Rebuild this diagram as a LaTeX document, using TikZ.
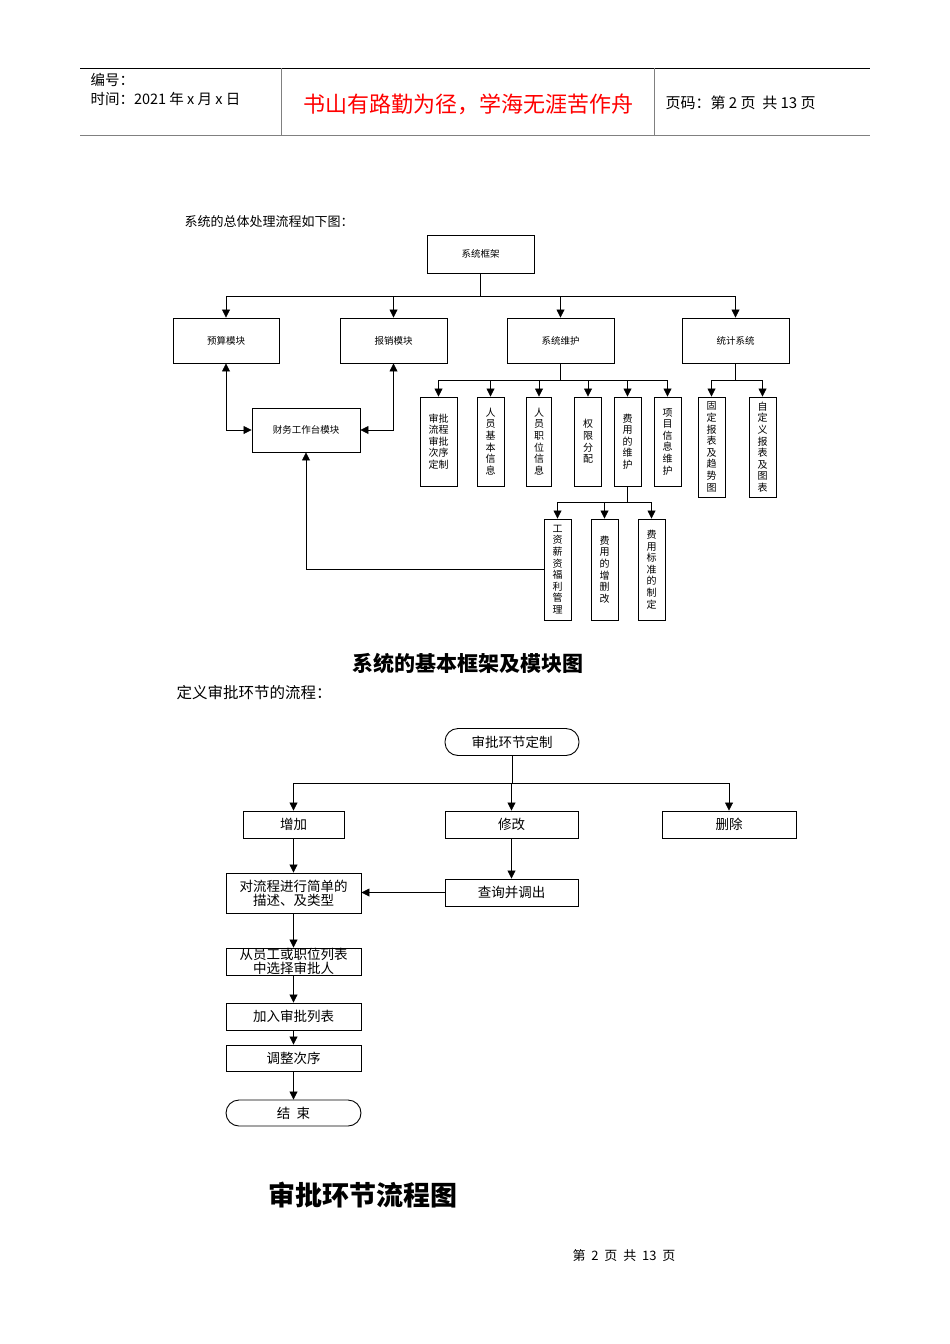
\documentclass[tikz,border=0pt]{standalone}
\usepackage{fontspec}
\setmainfont{Noto Sans CJK SC}
\usetikzlibrary{arrows.meta}
\begin{document}
\begin{tikzpicture}[x=1pt,y=-1pt,
  box/.style={draw,line width=0.9pt,inner sep=0pt,align=center,font=\fontsize{9.5}{11}\selectfont},
  vbox/.style={box,font=\fontsize{10}{11.6}\selectfont},
  bbox/.style={draw,line width=0.9pt,inner sep=0pt,align=center,font=\fontsize{13.5}{14}\selectfont},
  ar/.style={-{Triangle[length=8pt,width=8pt]},line width=0.8pt},
  dar/.style={{Triangle[length=8pt,width=8pt]}-{Triangle[length=8pt,width=8pt]},line width=0.8pt},
  ln/.style={line width=0.8pt}]
\useasboundingbox (0,0) rectangle (950,1344);
% header
\draw[line width=0.6pt] (80,68) -- (870,68);
\draw[line width=1.2pt,gray] (80,135.5) -- (870,135.5);
\draw[line width=0.5pt,gray] (281,68) -- (281,135) (654,68) -- (654,135);
\node[anchor=west,font=\fontsize{14.5}{16}\selectfont] (h1) at (87,80) {编号：};
\node[anchor=west,font=\fontsize{14.5}{16}\selectfont] (h2) at (87,99) {时间：2021 年 x 月 x 日};
\node[font=\fontsize{22}{24}\selectfont,text=red] (h3) at (468,104) {书山有路勤为径，学海无涯苦作舟};
\node[anchor=west,font=\fontsize{15}{16}\selectfont] (h4) at (662,103) {页码：第 2 页\ \ 共 13 页};
% diagram 1
\node[anchor=west,font=\fontsize{13}{14}\selectfont] (t1) at (181,222) {系统的总体处理流程如下图：};
\node[box,minimum width=107,minimum height=38] (root) at (480.5,254) {系统框架};
\node[box,minimum width=106,minimum height=45] (ys) at (226,340.5) {预算模块};
\node[box,minimum width=107,minimum height=45] (bx) at (393.5,340.5) {报销模块};
\node[box,minimum width=107,minimum height=45] (wh) at (560.5,340.5) {系统维护};
\node[box,minimum width=107,minimum height=45] (tj) at (735.5,340.5) {统计系统};
\node[box,minimum width=108,minimum height=44] (cw) at (306,430) {财务工作台模块};
\coordinate (b1) at (480.5,296);
\draw[ln] (root.south) -- (b1);
\draw[ln] (ys.north |- b1) -- (tj.north |- b1);
\foreach \n in {ys,bx,wh,tj} \draw[ar] (\n.north |- b1) -- (\n.north);
\draw[dar] (ys.south) |- (cw.west);
\draw[dar] (bx.south) |- (cw.east);
% sub boxes of 系统维护
\node[vbox,minimum width=37,minimum height=89] (v1) at (438.5,441.5) {审批\\流程\\审批\\次序\\定制};
\node[vbox,minimum width=27,minimum height=89] (v2) at (490.5,441.5) {人\\员\\基\\本\\信\\息};
\node[vbox,minimum width=25,minimum height=89] (v3) at (539,441.5) {人\\员\\职\\位\\信\\息};
\node[vbox,minimum width=27,minimum height=89] (v4) at (588,441.5) {权\\限\\分\\配};
\node[vbox,minimum width=27,minimum height=89] (v5) at (627.5,441.5) {费\\用\\的\\维\\护};
\node[vbox,minimum width=27,minimum height=89] (v6) at (667.5,441.5) {项\\目\\信\\息\\维\\护};
\coordinate (b2) at (560.5,380);
\draw[ln] (wh.south) -- (b2);
\draw[ln] (v1.north |- b2) -- (v6.north |- b2);
\foreach \n in {v1,v2,v3,v4,v5,v6} \draw[ar] (\n.north |- b2) -- (\n.north);
% 统计
\node[vbox,minimum width=27,minimum height=100] (s1) at (711.5,447) {固\\定\\报\\表\\及\\趋\\势\\图};
\node[vbox,minimum width=27,minimum height=100] (s2) at (762.5,447) {自\\定\\义\\报\\表\\及\\图\\表};
\coordinate (b3) at (735.5,380);
\draw[ln] (tj.south) -- (b3);
\draw[ln] (s1.north |- b3) -- (s2.north |- b3);
\foreach \n in {s1,s2} \draw[ar] (\n.north |- b3) -- (\n.north);
% 费用
\node[vbox,minimum width=27,minimum height=101] (f1) at (557.5,569.5) {工\\资\\薪\\资\\福\\利\\管\\理};
\node[vbox,minimum width=27,minimum height=101] (f2) at (604.5,569.5) {费\\用\\的\\增\\删\\改};
\node[vbox,minimum width=27,minimum height=101] (f3) at (651.5,569.5) {费\\用\\标\\准\\的\\制\\定};
\coordinate (b4) at (627.5,502);
\draw[ln] (v5.south) -- (b4);
\draw[ln] (f1.north |- b4) -- (f3.north |- b4);
\foreach \n in {f1,f2,f3} \draw[ar] (\n.north |- b4) -- (\n.north);
\draw[ar] (f1.west) -| (cw.south);
\node[font=\bfseries\fontsize{21}{23}\selectfont] (c1) at (468,663) {系统的基本框架及模块图};
\node[anchor=west,font=\fontsize{15.5}{17}\selectfont] (t2) at (173,693) {定义审批环节的流程：};
% diagram 2
\node[bbox,rounded corners=13pt,minimum width=134,minimum height=27] (sp) at (512,742) {审批环节定制};
\node[bbox,minimum width=101,minimum height=27] (zj) at (293.5,824.5) {增加};
\node[bbox,minimum width=133,minimum height=27] (xg) at (511.5,824.5) {修改};
\node[bbox,minimum width=134,minimum height=27] (sc) at (729,824.5) {删除};
\node[bbox,minimum width=135,minimum height=40] (ms) at (293.5,893) {对流程进行简单的\\描述、及类型};
\node[bbox,minimum width=133,minimum height=27] (cx) at (511.5,892.5) {查询并调出};
\node[bbox,minimum width=135,minimum height=27] (xz) at (293.5,961.5) {从员工或职位列表\\中选择审批人};
\node[bbox,minimum width=135,minimum height=27] (jr) at (293.5,1016.5) {加入审批列表};
\node[bbox,minimum width=135,minimum height=26] (tz) at (293.5,1058) {调整次序};
\node[bbox,rounded corners=13pt,minimum width=135,minimum height=26] (js) at (293.5,1113) {结\ \ 束};
\coordinate (b5) at (512,783);
\draw[ln] (sp.south) -- (b5);
\draw[ln] (zj.north |- b5) -- (sc.north |- b5);
\foreach \n in {zj,xg,sc} \draw[ar] (\n.north |- b5) -- (\n.north);
\draw[ar] (zj) -- (ms);
\draw[ar] (xg) -- (cx);
\draw[ar] (cx.west) -- (ms.east |- cx.west);
\draw[ar] (ms) -- (xz);
\draw[ar] (xz) -- (jr);
\draw[ar] (jr) -- (tz);
\draw[ar] (tz) -- (js);
\node[font=\bfseries\fontsize{27}{29}\selectfont] (c2) at (363,1195) {审批环节流程图};
\node[font=\fontsize{13}{14}\selectfont] (ft) at (624,1256) {第\ \ 2\ \ 页\ \ 共\ \ 13\ \ 页};
\end{tikzpicture}
\end{document}
